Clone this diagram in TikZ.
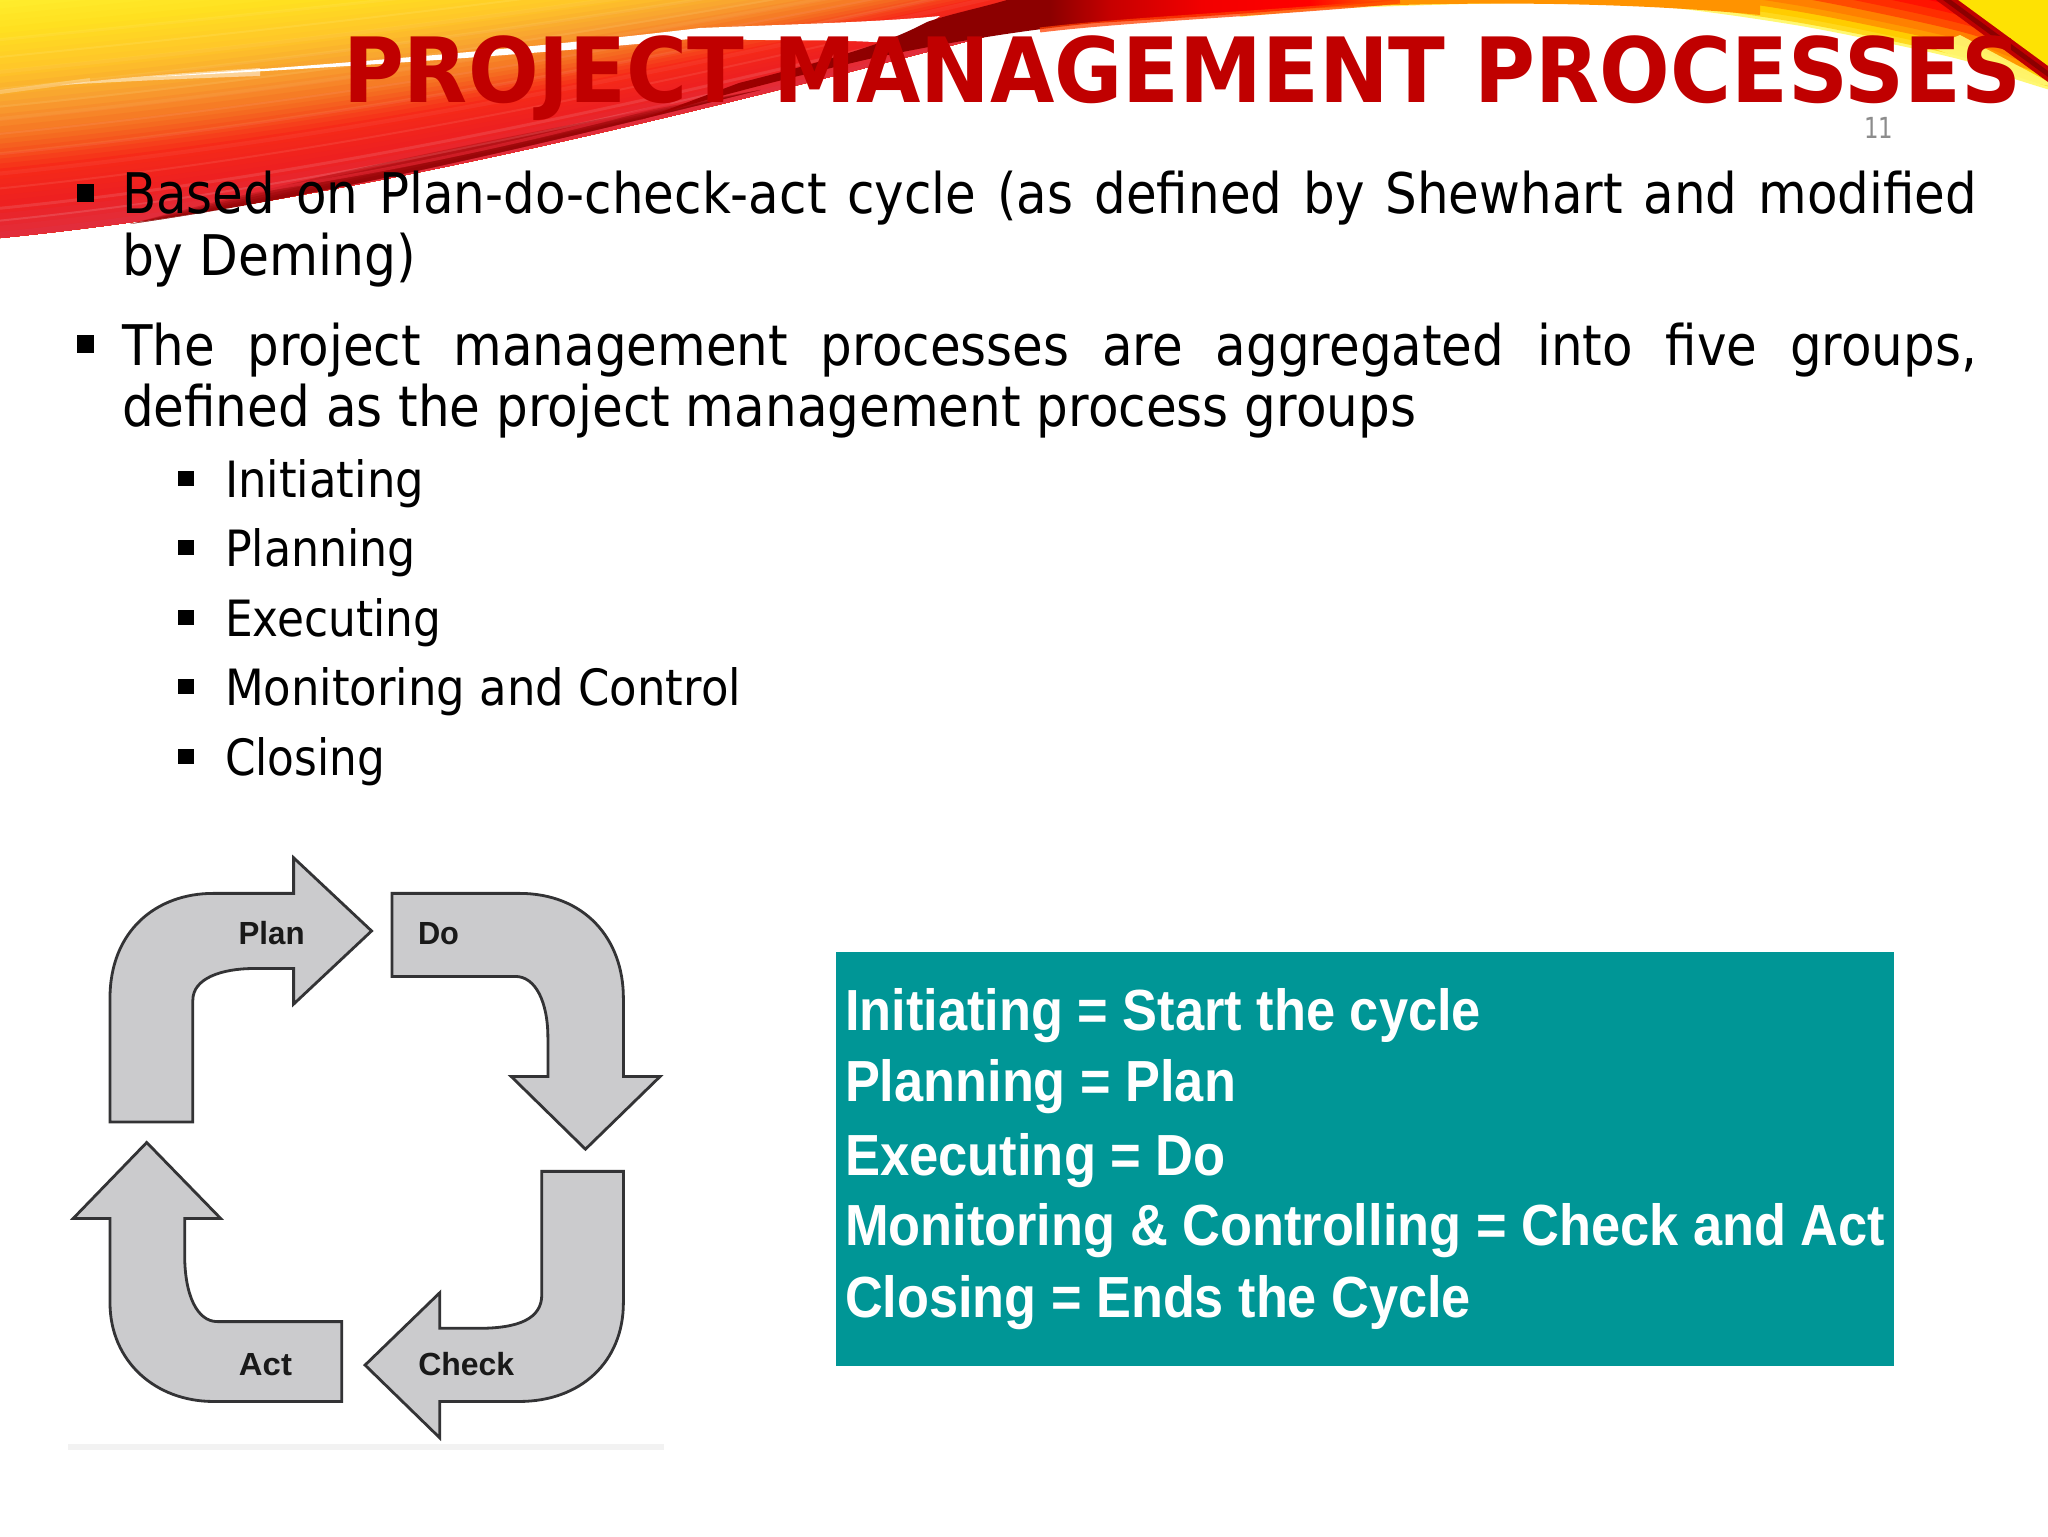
\documentclass[tikz,border=0pt]{standalone}
\usepackage{fontspec}
\setmainfont{DejaVu Sans}
\newfontfamily\arialf{Liberation Sans}
\usetikzlibrary{calc}
\definecolor{sa}{HTML}{FFF030}\definecolor{sb}{HTML}{FFE020}\definecolor{sc}{HTML}{FFC828}
\definecolor{sd}{HTML}{F8A030}\definecolor{se}{HTML}{F56A20}\definecolor{sf}{HTML}{F62A18}
\definecolor{sg}{HTML}{EE2020}\definecolor{sh}{HTML}{E03040}
\definecolor{titlered}{HTML}{C00000}
\definecolor{arrowgrey}{HTML}{CBCBCD}
\definecolor{arrowline}{HTML}{333335}
\definecolor{tealbg}{HTML}{009696}
\definecolor{numgrey}{HTML}{8C8C8C}
\pgfdeclarehorizontalshading{bandsh}{100bp}{
 color(0bp)=(red!65!black);color(25bp)=(red!65!black);
 color(42bp)=(red!55!black);color(52bp)=(red!55!black);
 color(56bp)=(red!78!black);color(62bp)=(red!95!black);
 color(69bp)=(red);color(73bp)=(orange!60!red);color(75bp)=(orange);color(100bp)=(orange)}
\newsavebox\fitbox
\newcommand\fitw[2]{\sbox\fitbox{#2}\pgfmathsetmacro\fitr{0.5*#1/\the\wd\fitbox}\scalebox{\fitr}[1]{\usebox\fitbox}}
\newcommand\justline[2]{\sbox\fitbox{defined as the project management process groups}\pgfmathsetmacro\bodyr{0.5*1292/\the\wd\fitbox}\pgfmathsetlengthmacro\jw{0.5*#1/\bodyr}\scalebox{\bodyr}[1]{\makebox[\jw][s]{#2}}}
\newcommand\stripseg[4]{\foreach \i in {0,...,5}{%
  \pgfmathsetmacro\myS{#1+(#2-#1)*\i/6}%
  \pgfmathsetmacro\myP{100*\i/6}%
  \colorlet{cc}{#4!\myP!#3}%
  \fill[cc] ($(tA)!\myS!(bA)$) .. controls ($(tB)!\myS!(bB)$) and ($(tC)!\myS!(bC)$) .. ($(tD)!\myS!(bD)$) -- (bD) .. controls (bC) and (bB) .. (bA) -- cycle;
}}
\newcommand\lobe[2]{\fill[#2,shift={(0,-#1)}] plot[smooth] coordinates {(1240,17) (1350,8) (1528,3) (1662,7) (1795,25) (1906,47) (1973,63) (2018,80) (2070,96)} -- (2070,-120) -- (1240,-120) -- cycle;}
\tikzset{
  txt/.style={anchor=base west,inner sep=0pt,outer sep=0pt},
  bodyt/.style={txt,font=\fontsize{28}{28}\selectfont,text=black},
  subt/.style={txt,font=\fontsize{25}{25}\selectfont,text=black},
  tealt/.style={txt,font=\arialf\bfseries\fontsize{29}{29}\selectfont,text=white},
  cyclearrow/.style={fill=arrowgrey,draw=arrowline,line width=1.4pt,line join=miter},
  cyclelabel/.style={anchor=base,inner sep=0pt,font=\arialf\bfseries\fontsize{16}{16}\selectfont,text=black!90},
  sqbullet/.style={fill=black}
}
\begin{document}
\begin{tikzpicture}[x=0.5pt,y=-0.5pt]
\useasboundingbox (0,0) rectangle (2048,1536);
\fill[white] (0,0) rectangle (2048,1536);
\begin{scope}
\clip (0,0) rectangle (2048,1536);
% left swoosh body
\coordinate (bA) at (0,238);\coordinate (bB) at (260,212);\coordinate (bC) at (560,150);\coordinate (bD) at (1010,30);
\coordinate (tA) at (0,-10);\coordinate (tB) at (300,-40);\coordinate (tC) at (600,-60);\coordinate (tD) at (1010,-110);
\stripseg{0}{.15}{sa}{sb}
\stripseg{.15}{.3}{sb}{sc}
\stripseg{.3}{.45}{sc}{sd}
\stripseg{.45}{.6}{sd}{se}
\stripseg{.6}{.72}{se}{sf}
\stripseg{.72}{.85}{sf}{sg}
\stripseg{.85}{1}{sg}{sh}
% streaks
\foreach \k/\w/\o in {.2/1.5/.06,.27/1/.08,.33/2/.05,.4/1.5/.07,.47/1/.07,.52/2/.05,.58/1/.08,.66/1.5/.07,.74/2/.05,.8/1/.08,.88/1.5/.1,.93/1/.12}{
  \draw[white,opacity=\o,line width=\w pt] ($(tA)!\k!(bA)$) .. controls ($(tB)!\k!(bB)$) and ($(tC)!\k!(bC)$) .. ($(tD)!\k!(bD)$);
}
% white wedge between the two ribbons
\draw[white,opacity=.25,line width=2pt] (0,92) -- (90,80);
\fill[white,opacity=.5] (60,85) .. controls (130,76) and (200,72) .. (260,68) -- (260,76) .. controls (200,78) and (130,81) .. (60,85) -- cycle;
\fill[white] (150,77) .. controls (280,68) and (500,52) .. (700,28) .. controls (800,24) and (880,22) .. (940,16) -- (900,44) .. controls (840,38) and (760,42) .. (700,38) .. controls (520,56) and (300,70) .. (150,77) -- cycle;
% dark lens on the lower edge
\coordinate (lB) at (300,200);\coordinate (lC) at (520,150);
\coordinate (uB) at (330,170);\coordinate (uC) at (560,125);
\foreach \k in {1,.8,.6,.4,.25}{
  \fill[red!55!black,opacity=.3] (130,224) .. controls (lB) and (lC) .. (760,90) -- (760,90) .. controls ($(lC)!\k!(uC)$) and ($(lB)!\k!(uB)$) .. (130,224) -- cycle;
}
\draw[red!20!sh,opacity=.6,line width=1.5pt] (130,207) .. controls (300,190) and (500,150) .. (670,103);
% right lobe
\lobe{0}{yellow!55!white}
\lobe{3}{sc!70!yellow}
\lobe{8}{orange!40!yellow}
\lobe{14}{orange!80!yellow}
\lobe{20}{orange}
\lobe{28}{orange!60!red}
\lobe{36}{orange!35!red}
\lobe{44}{orange!15!red}
\lobe{52}{red}
\lobe{62}{red!85!black}
\fill[orange!85!yellow] (1300,9) .. controls (1450,1) and (1620,1) .. (1760,15) -- (1760,0) -- (1300,0) -- cycle;
% band rising to the top edge
\path[shading=bandsh] (640,120) .. controls (700,100) and (800,75) .. (873,58) .. controls (940,44) and (1020,30) .. (1096,23) .. controls (1180,18) and (1280,12) .. (1400,0) -- (1007,0) .. controls (980,8) and (950,14) .. (927,22) .. controls (900,36) and (870,50) .. (739,83) -- cycle;
\draw[orange!50!red,opacity=.75,line width=2.5pt] (1040,30) .. controls (1130,19) and (1280,13) .. (1400,1);
% top-right corner
\fill[yellow!85!orange] (1950,0) -- (2070,90) -- (2070,0) -- cycle;
\fill[yellow!55!white,opacity=.9] (1960,35) -- (2060,88) -- (2018,80) -- (1973,63) -- (1930,47) -- cycle;
\fill[red!75!black] (1936,0) -- (1958,0) -- (2048,66) -- (2048,82) -- cycle;
\fill[red!55!black] (1943,0) -- (1951,0) -- (2048,71) -- (2048,77) -- cycle;
\end{scope}

% title and number
\node[txt,font=\bfseries\fontsize{45}{45}\selectfont,text=titlered] (title) at (343,103) {\fitw{1678}{PROJECT MANAGEMENT PROCESSES}};
\node[txt,font=\fontsize{14.5}{14.5}\selectfont,text=numgrey] (pagenum) at (1864,138) {\fitw{29}{11}};

% bullets
\fill[sqbullet] (77,184) rectangle (94,202);
\fill[sqbullet] (77,335) rectangle (94,353);
\node[bodyt] (l1) at (122,213) {\justline{1855}{Based on Plan-do-check-act cycle (as defined by Shewhart and modified}};
\node[bodyt] (l2) at (122,275) {\fitw{294}{by Deming)}};
\node[bodyt] (l3) at (122,365) {\justline{1855}{The project management processes are aggregated into five groups,}};
\node[bodyt] (l4) at (122,426) {\fitw{1294}{defined as the project management process groups}};
\foreach \yy/\nm/\ww/\tt in {497/s1/199/Initiating,566/s2/191/Planning,636/s3/216/Executing,705/s4/516/Monitoring and Control,775/s5/160/Closing}{
  \pgfmathsetmacro\ytop{\yy-26}
  \fill[sqbullet] (178,\ytop) rectangle ++(16,15);
  \node[subt] (\nm) at (225,\yy) {\fitw{\ww}{\tt}};
}

% PDCA cycle, in the zoom's own grid
\begin{scope}[shift={(50,840)},x=0.5pt/2.45,y=-0.5pt/2.529]
\fill[black!5] (45,1528) rectangle (1505,1542);
\draw[cyclearrow] (147,713) -- (147,400) .. controls (147,230) and (260,135) .. (400,135) -- (597,135) -- (597,45) -- (788,230) -- (597,415) -- (597,325) -- (500,325) .. controls (420,325) and (350,350) .. (350,405) -- (350,713) -- cycle;
\draw[cyclearrow] (838,135) -- (1150,135) .. controls (1310,135) and (1405,250) .. (1405,400) -- (1405,598) -- (1495,598) -- (1312,782) -- (1130,598) -- (1220,598) -- (1220,500) .. controls (1220,410) and (1190,345) .. (1140,345) -- (838,345) -- cycle;
\draw[cyclearrow] (1205,838) -- (1405,838) -- (1405,1170) .. controls (1405,1320) and (1300,1420) .. (1150,1420) -- (955,1420) -- (955,1512) -- (772,1328) -- (955,1145) -- (955,1235) -- (1050,1235) .. controls (1150,1235) and (1205,1210) .. (1205,1150) -- cycle;
\draw[cyclearrow] (715,1218) -- (410,1218) .. controls (360,1218) and (330,1150) .. (330,1050) -- (330,957) -- (418,957) -- (237,765) -- (57,957) -- (147,957) -- (147,1170) .. controls (147,1320) and (260,1420) .. (400,1420) -- (715,1420) -- cycle;
\node[cyclelabel] (plan) at (543,265) {\fitw{66}{Plan}};
\node[cyclelabel] (do) at (952,265) {\fitw{41}{Do}};
\node[cyclelabel] (check) at (1020,1355) {\fitw{96}{Check}};
\node[cyclelabel] (act) at (528,1355) {\fitw{53}{Act}};
\end{scope}

% teal box
\node[fill=tealbg,anchor=north west,inner sep=0pt,outer sep=0pt,minimum width=529pt,minimum height=207pt] (tealbox) at (836,952) {};
\node[tealt] (t1) at (845,1030) {\fitw{636}{Initiating = Start the cycle}};
\node[tealt] (t2) at (845,1101) {\fitw{391}{Planning = Plan}};
\node[tealt] (t3) at (845,1175) {\fitw{381}{Executing = Do}};
\node[tealt] (t4) at (845,1245) {\fitw{1040}{Monitoring \& Controlling = Check and Act}};
\node[tealt] (t5) at (845,1317) {\fitw{626}{Closing = Ends the Cycle}};
\end{tikzpicture}
\end{document}
